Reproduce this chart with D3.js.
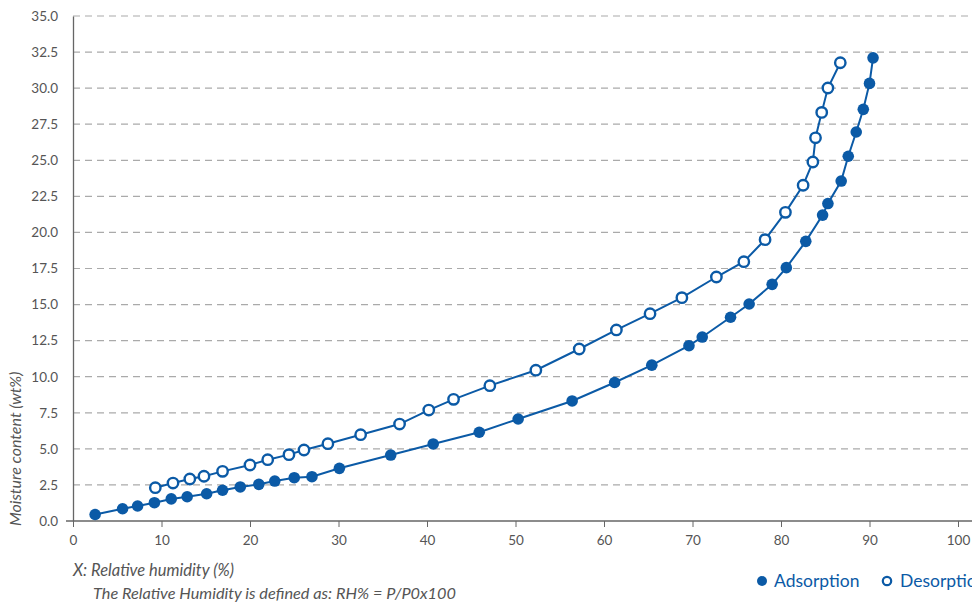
<!DOCTYPE html>
<html>
<head>
<meta charset="utf-8">
<script src="https://cdn.jsdelivr.net/npm/d3@7"></script>
<style>
  body { margin: 0; background: #fff; }
  text { font-family: Lato, "Open Sans", sans-serif; }
</style>
</head>
<body>
<div class="chart"></div>
<script>
// adsorption isotherm (filled markers)
const adsRH = [2.5, 5.6, 7.3, 9.2, 11.1, 12.9, 15.1, 16.9, 18.9, 21.0, 22.8, 25.0, 27.0, 30.1,
    35.9, 40.7, 45.9, 50.3, 56.4, 61.2, 65.4, 69.6, 71.1, 74.3, 76.4, 79.0, 80.6, 82.8,
    84.7, 85.3, 86.8, 87.6, 88.5, 89.3, 90.0, 90.4];
const adsMC = [0.45, 0.85, 1.04, 1.27, 1.53, 1.68, 1.89, 2.13, 2.36, 2.54, 2.77, 3.0, 3.07, 3.65,
    4.57, 5.34, 6.15, 7.07, 8.32, 9.6, 10.8, 12.15, 12.75, 14.12, 15.04, 16.4, 17.56, 19.38,
    21.2, 22.0, 23.56, 25.28, 26.96, 28.53, 30.33, 32.1];

// desorption isotherm (open markers)
const desRH = [9.3, 11.3, 13.2, 14.8, 16.9, 20.0, 22.0, 24.4, 26.1, 28.8, 32.5, 36.9, 40.2,
    43.0, 47.1, 52.3, 57.2, 61.4, 65.2, 68.8, 72.7, 75.8, 78.2, 80.5, 82.5, 83.6, 83.9,
    84.6, 85.3, 86.7];
const desMC = [2.31, 2.63, 2.91, 3.1, 3.44, 3.88, 4.25, 4.6, 4.92, 5.36, 5.98, 6.72, 7.69,
    8.43, 9.38, 10.45, 11.92, 13.24, 14.37, 15.48, 16.91, 17.97, 19.5, 21.39, 23.27, 24.88,
    26.56, 28.32, 30.01, 31.76];

const xTicks = [0, 10, 20, 30, 40, 50, 60, 70, 80, 90, 100];
const yTicks = [0, 2.5, 5, 7.5, 10, 12.5, 15, 17.5, 20, 22.5, 25, 27.5, 30, 32.5, 35];

const blue = '#0b5aa6';
const grey = '#666';

const w = 972, h = 604;
const margin = { top: 16, right: 14, bottom: 83, left: 73 };

const svg = d3.select('.chart').append('svg')
    .attr('width', w)
    .attr('height', h);

const x = d3.scaleLinear().domain([0, 100]).range([margin.left, w - margin.right]);
const y = d3.scaleLinear().domain([0, 35]).range([h - margin.bottom, margin.top]);

// dashed grid lines
svg.append('g')
    .selectAll('line')
    .data(yTicks.filter(d => d > 0))
    .join('line')
        .attr('x1', margin.left)
        .attr('x2', w)
        .attr('y1', d => y(d))
        .attr('y2', d => y(d))
        .attr('stroke', '#aaa')
        .attr('stroke-width', 1.2)
        .attr('stroke-dasharray', '7,5');

// y axis
const yAxis = svg.append('g')
    .attr('transform', `translate(${margin.left},0)`)
    .call(d3.axisLeft(y).tickValues(yTicks).tickFormat(d3.format('.1f')).tickSize(0).tickPadding(15));
yAxis.select('.domain').attr('stroke', grey).attr('stroke-width', 1.3);
yAxis.selectAll('text').attr('fill', '#555').attr('font-size', 13.5);

// x axis
const xAxis = svg.append('g')
    .attr('transform', `translate(0,${y(0)})`)
    .call(d3.axisBottom(x).tickValues(xTicks).tickSizeInner(6).tickSizeOuter(0).tickPadding(8));
xAxis.select('.domain').attr('d', `M${margin.left - 7},0H${w}`).attr('stroke', grey).attr('stroke-width', 1.3);
xAxis.selectAll('line').attr('stroke', grey);
xAxis.selectAll('text').attr('fill', '#555').attr('font-size', 13.5);

// series
const series = [
    { rh: adsRH, mc: adsMC, open: false },
    { rh: desRH, mc: desMC, open: true }
];
const line = d3.line().x(d => x(d[0])).y(d => y(d[1]));

series.forEach(s => {
    const pts = s.rh.map((v, i) => [v, s.mc[i]]);
    svg.append('path')
        .datum(pts)
        .attr('fill', 'none')
        .attr('stroke', blue)
        .attr('stroke-width', 2)
        .attr('d', line);
    svg.append('g')
        .selectAll('circle')
        .data(pts)
        .join('circle')
            .attr('cx', d => x(d[0]))
            .attr('cy', d => y(d[1]))
            .attr('r', s.open ? 5.2 : 5.8)
            .attr('fill', s.open ? '#fff' : blue)
            .attr('stroke', blue)
            .attr('stroke-width', s.open ? 2.4 : 0);
});

// axis titles
svg.append('text')
    .attr('transform', `translate(21,${y(5)}) rotate(-90)`)
    .attr('text-anchor', 'middle')
    .attr('font-style', 'italic')
    .attr('font-size', 16)
    .attr('fill', '#555')
    .text('Moisture content (wt%)');

svg.append('text')
    .attr('x', 73).attr('y', 576)
    .attr('font-style', 'italic')
    .attr('font-size', 16.5)
    .attr('fill', '#555')
    .text('X: Relative humidity (%)');

svg.append('text')
    .attr('x', 93).attr('y', 599)
    .attr('font-style', 'italic')
    .attr('font-size', 16.3)
    .attr('fill', '#555')
    .text('The Relative Humidity is defined as: RH% = P/P0x100');

// legend
const legend = svg.append('g');
legend.append('circle').attr('cx', 762).attr('cy', 581).attr('r', 5).attr('fill', blue);
legend.append('text').attr('x', 774).attr('y', 587).attr('font-size', 17.5).attr('fill', blue).text('Adsorption');
legend.append('circle').attr('cx', 887).attr('cy', 581).attr('r', 4.2)
    .attr('fill', '#fff').attr('stroke', blue).attr('stroke-width', 2.2);
legend.append('text').attr('x', 900).attr('y', 587).attr('font-size', 17.5).attr('fill', blue).text('Desorption');
</script>
</body>
</html>
